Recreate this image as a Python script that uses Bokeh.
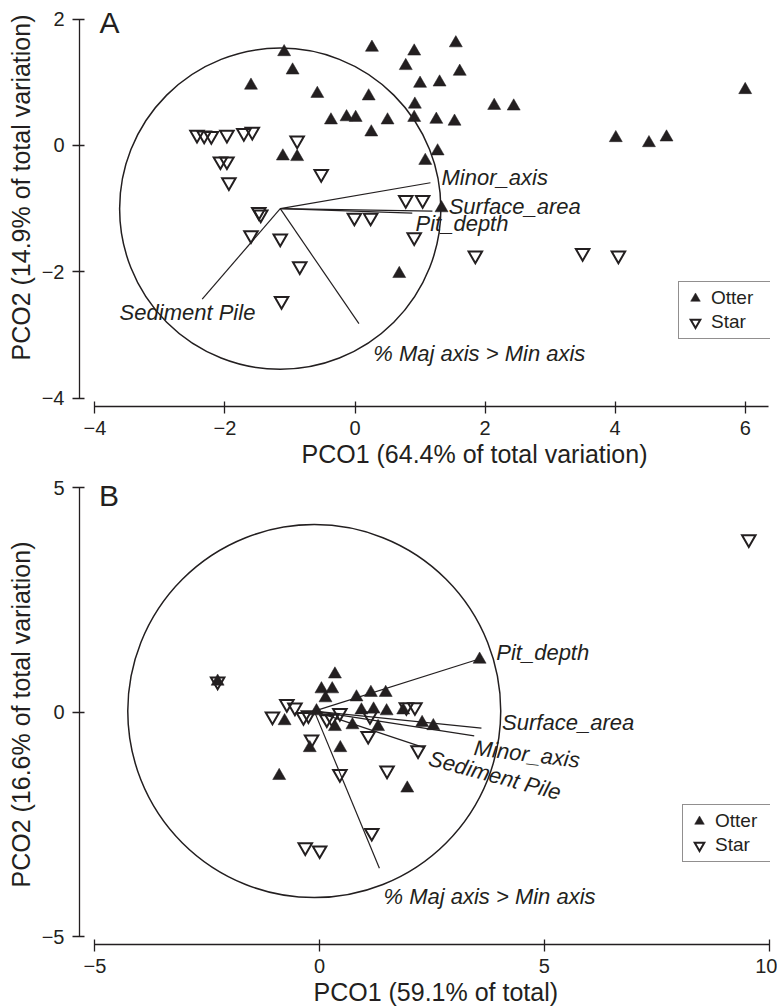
from bokeh.plotting import figure
from bokeh.layouts import column
from bokeh.models import (ColumnDataSource, Legend, LegendItem, Label, Title,
                          Range1d, FixedTicker)
from bokeh.core.properties import value
from bokeh.embed import file_html
from bokeh.resources import INLINE
import math

INK = "#231f20"
FONT = "Liberation Sans"

# ---------------- Panel A data ----------------
a_otter_x = [-1.09, -0.96, -1.60, -0.58, 0.26, 0.91, 1.55, 0.78, 1.61, 1.00, 1.30,
             0.21, 0.92, -0.37, -0.13, 0.01, 0.50, 0.91, 1.25, 1.53, 0.25, -1.11,
             -0.89, 1.27, 1.08, 1.33, 2.14, 2.44, 4.01, 4.52, 4.79, 6.00, 0.68]
a_otter_y = [1.48, 1.19, 0.95, 0.82, 1.55, 1.49, 1.62, 1.26, 1.17, 0.98, 1.00,
             0.78, 0.65, 0.40, 0.45, 0.44, 0.40, 0.44, 0.41, 0.38, 0.21, -0.17,
             -0.18, -0.09, -0.24, -0.99, 0.63, 0.62, 0.12, 0.04, 0.13, 0.88, -2.03]
a_star_x = [-2.43, -2.32, -2.21, -1.97, -1.71, -1.58, -0.89, -2.07, -1.97, -1.94,
            -0.52, 0.78, 1.04, -1.48, -1.45, -0.01, 0.24, -1.60, -1.15, 0.91,
            -0.85, -1.13, 1.85, 3.50, 4.05]
a_star_y = [0.17, 0.16, 0.15, 0.17, 0.20, 0.22, 0.08, -0.25, -0.25, -0.58,
            -0.45, -0.86, -0.86, -1.05, -1.09, -1.14, -1.14, -1.42, -1.47, -1.45,
            -1.91, -2.46, -1.74, -1.70, -1.74]
a_vec_names = ["Minor_axis", "Surface_area", "Pit_depth", "Sediment Pile",
               "% Maj axis > Min axis"]
a_vec_end_x = [1.16, 1.19, 0.88, -2.35, 0.06]
a_vec_end_y = [-0.59, -1.04, -1.07, -2.43, -2.82]
a_lab_x = [1.33, 1.44, 0.93, -3.62, 0.28]
a_lab_y = [-0.51, -0.97, -1.24, -2.64, -3.29]
a_lab_angle = [0, 0, 0, 0, 0]
a_center = (-1.15, -1.0)
a_radius = 2.47
a_xticks = [-4, -2, 0, 2, 4, 6]
a_yticks = [-4, -2, 0, 2]
a_xlabel = "PCO1 (64.4% of total variation)"
a_ylabel = "PCO2 (14.9% of total variation)"

# ---------------- Panel B data ----------------
b_otter_x = [-2.27, 0.34, 0.04, 0.28, 0.13, 0.82, 1.14, 1.47, -0.07, 0.93, 1.20,
             1.49, 1.86, -0.78, 0.34, 0.73, 1.30, 2.28, 2.53, -0.22, 0.46, -0.90,
             1.95, 3.56]
b_otter_y = [0.68, 0.84, 0.51, 0.51, 0.31, 0.33, 0.43, 0.43, 0.02, 0.04, 0.06,
             0.02, 0.04, -0.20, -0.33, -0.29, -0.33, -0.24, -0.31, -0.80, -0.80, -1.42,
             -1.70, 1.17]
b_star_x = [-2.27, -1.05, -0.73, -0.55, -0.36, -0.25, 0.45, 0.27, 0.16, 1.12, 1.93,
            2.12, -0.18, 1.08, 2.19, 0.45, 1.50, 1.16, -0.32, 0.00, 9.55]
b_star_y = [0.68, -0.10, 0.18, 0.10, -0.11, -0.07, -0.02, -0.14, -0.16, -0.09, 0.11,
            0.11, -0.61, -0.53, -0.85, -1.38, -1.30, -2.69, -3.01, -3.08, 3.85]
b_vec_names = ["Pit_depth", "Surface_area", "Minor_axis", "Sediment Pile",
               "% Maj axis > Min axis"]
b_vec_end_x = [3.55, 3.60, 3.44, 2.34, 1.33]
b_vec_end_y = [1.18, -0.36, -0.53, -0.80, -3.48]
b_lab_x = [3.93, 4.06, 3.44, 2.44, 1.42]
b_lab_y = [1.32, -0.24, -0.79, -1.02, -4.10]
b_lab_angle = [0, 0, -7, -15, 0]
b_center = (-0.12, 0.02)
b_radius = 4.15
b_xticks = [-5, 0, 5, 10]
b_yticks = [-5, 0, 5]
b_xlabel = "PCO1 (59.1% of total)"
b_ylabel = "PCO2 (16.6% of total variation)"


def make_panel(otter_x, otter_y, star_x, star_y, center, radius,
               vec_x, vec_y, vec_names, lab_x, lab_y, lab_angle,
               xticks, yticks, xlabel, ylabel, letter, cfg):
    p = figure(width=cfg["width"], height=cfg["height"],
               x_range=Range1d(*cfg["xr"]), y_range=Range1d(*cfg["yr"]),
               output_backend="svg", toolbar_location=None,
               min_border_left=cfg["bl"], min_border_right=cfg["br"],
               min_border_top=cfg["bt"], min_border_bottom=cfg["bb"])
    p.grid.visible = False
    p.outline_line_color = None
    p.background_fill_color = "white"
    p.border_fill_color = "white"

    for ax in (p.xaxis[0], p.yaxis[0]):
        ax.axis_line_color = INK
        ax.axis_line_width = 1.3
        ax.major_tick_line_color = INK
        ax.major_tick_line_width = 1.3
        ax.major_tick_in = 5
        ax.major_tick_out = 7
        ax.minor_tick_line_color = None
        ax.major_label_text_font = FONT
        ax.major_label_text_font_size = "20px"
        ax.major_label_text_color = INK
    p.xaxis.ticker = FixedTicker(ticks=xticks)
    p.yaxis.ticker = FixedTicker(ticks=yticks)
    p.xaxis.major_label_overrides = {t: "\u2212" + str(abs(t)) for t in xticks if t < 0}
    p.yaxis.major_label_overrides = {t: "\u2212" + str(abs(t)) for t in yticks if t < 0}
    p.xaxis.bounds = cfg["xb"]
    p.yaxis.bounds = cfg["yb"]
    p.xaxis.major_label_standoff = 7
    p.yaxis.major_label_standoff = 8

    # axis titles, placed where the original puts them
    p.add_layout(Title(text=ylabel, align="left", offset=cfg["ylab_off"],
                       text_font=FONT, text_font_size="25px",
                       text_font_style="normal", text_color=INK, standoff=8),
                 "left")
    p.add_layout(Title(text=xlabel, align="left", offset=cfg["xlab_off"],
                       text_font=FONT, text_font_size="25px",
                       text_font_style="normal", text_color=INK, standoff=0),
                 "below")

    # correlation circle and vectors
    p.circle(x=[center[0]], y=[center[1]], radius=radius, fill_color=None,
             line_color=INK, line_width=1.5)
    n = len(vec_x)
    p.segment(x0=[center[0]] * n, y0=[center[1]] * n, x1=vec_x, y1=vec_y,
              line_color=INK, line_width=1.2)
    src = ColumnDataSource(dict(x=lab_x, y=lab_y, text=vec_names,
                                angle=[math.radians(a) for a in lab_angle]))
    p.text(x="x", y="y", text="text", angle="angle", source=src,
           text_font=value(FONT), text_font_style="italic", text_font_size="22px",
           text_baseline="middle", text_align="left", text_color=INK)

    r_otter = p.scatter(otter_x, otter_y, marker="triangle", size=13,
                        fill_color=INK, line_color=INK, line_width=0.5)
    r_star = p.scatter(star_x, star_y, marker="inverted_triangle", size=13.5,
                       fill_color=None, line_color=INK, line_width=2,
                       line_join="miter")

    legend = Legend(items=[LegendItem(label="Otter", renderers=[r_otter]),
                           LegendItem(label="Star", renderers=[r_star])],
                    location=cfg["leg"], glyph_width=24, glyph_height=24,
                    spacing=0, padding=4, margin=0, label_standoff=4,
                    label_width=58, label_height=20,
                    label_text_font=FONT, label_text_font_size="19px",
                    label_text_color=INK,
                    border_line_color=INK, border_line_width=1.5,
                    background_fill_color="white", background_fill_alpha=1)
    p.add_layout(legend)

    p.add_layout(Label(x=cfg["letter_xy"][0], y=cfg["letter_xy"][1], text=letter,
                       text_font=FONT, text_font_size="30px", text_color=INK,
                       text_baseline="alphabetic"))
    return p


cfg_a = dict(width=777, height=471, xr=(-4.237, 6.389), yr=(-4.130, 2.231),
             bl=78, br=3, bt=4, bb=65, xb=(-4, 6.36), yb=(-4, 2),
             xlab_off=222, ylab_off=46, leg=(599, 67), letter_xy=(-3.93, 1.94))
cfg_b = dict(width=777, height=537, xr=(-5.344, 10.033), yr=(-5.178, 5.312),
             bl=78, br=7, bt=2, bb=64, xb=(-5, 10), yb=(-5, 5),
             xlab_off=234, ylab_off=57, leg=(603, 82), letter_xy=(-4.91, 4.815))

pa = make_panel(a_otter_x, a_otter_y, a_star_x, a_star_y, a_center, a_radius,
                a_vec_end_x, a_vec_end_y, a_vec_names, a_lab_x, a_lab_y, a_lab_angle,
                a_xticks, a_yticks, a_xlabel, a_ylabel, "A", cfg_a)
pb = make_panel(b_otter_x, b_otter_y, b_star_x, b_star_y, b_center, b_radius,
                b_vec_end_x, b_vec_end_y, b_vec_names, b_lab_x, b_lab_y, b_lab_angle,
                b_xticks, b_yticks, b_xlabel, b_ylabel, "B", cfg_b)

layout = column(pa, pb, spacing=0)
open("out.html", "w").write(file_html(layout, INLINE))
